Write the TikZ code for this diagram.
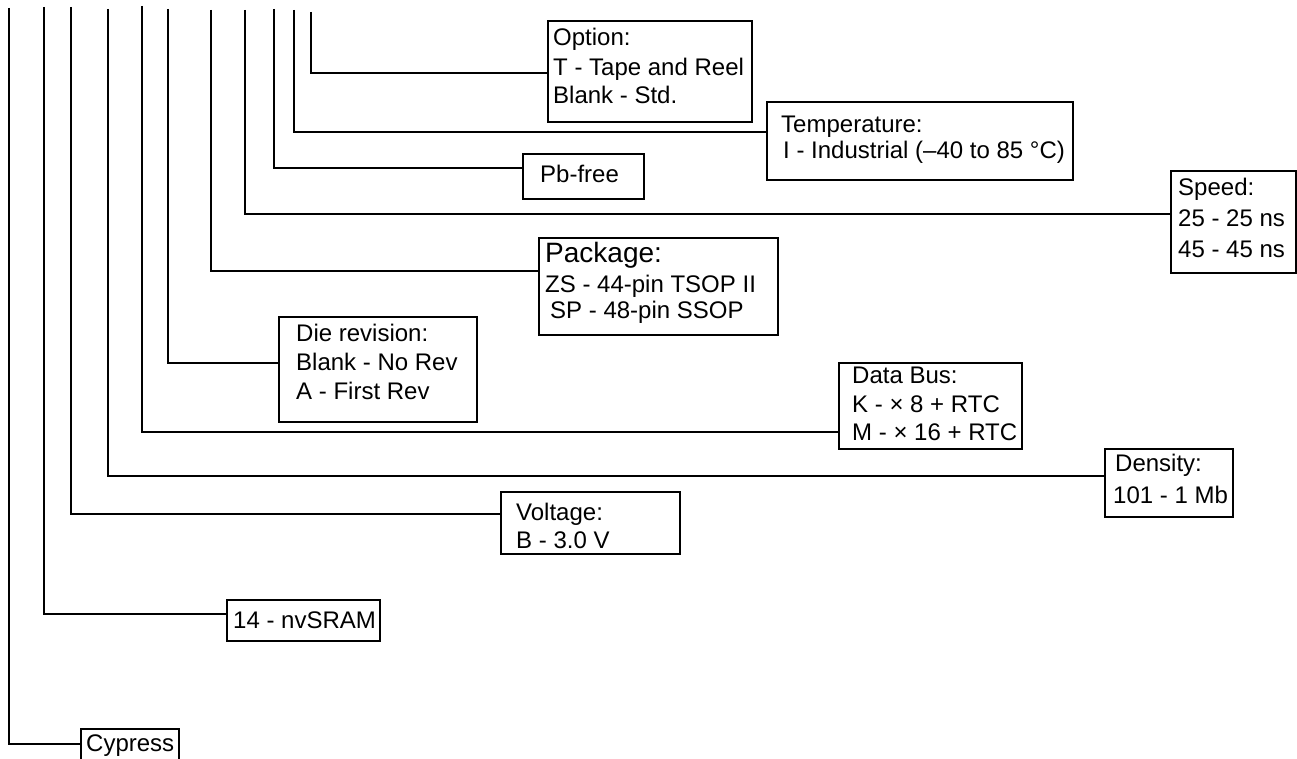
\documentclass[tikz,border=0pt]{standalone}
\usepackage{fontspec}
\setmainfont{Liberation Sans}
\begin{document}
\begin{tikzpicture}[x=1pt,y=-1pt,
  box/.style={draw, line width=1.35pt, rectangle, inner sep=0pt, outer sep=0pt, anchor=north west},
  lbl/.style={anchor=base west, inner sep=0pt, font=\fontsize{24}{28}\selectfont},
  big/.style={anchor=base west, inner sep=0pt, font=\fontsize{28}{32}\selectfont},
  lead/.style={line width=1.35pt, line join=miter}]
\useasboundingbox (0,0) rectangle (1297,759);
\clip (0,0) rectangle (1297,759);

% boxes
\node[box, minimum width=204pt, minimum height=101pt] (opt)  at (548,21)  {};
\node[box, minimum width=306pt, minimum height=78pt]  (temp) at (767,102) {};
\node[box, minimum width=121pt, minimum height=45pt]  (pb)   at (523,154) {};
\node[box, minimum width=125pt, minimum height=102pt] (spd)  at (1171,171) {};
\node[box, minimum width=239pt, minimum height=97pt]  (pkg)  at (539,238) {};
\node[box, minimum width=198pt, minimum height=105pt] (die)  at (279,317) {};
\node[box, minimum width=183pt, minimum height=86pt]  (bus)  at (839,363) {};
\node[box, minimum width=128pt, minimum height=68pt]  (den)  at (1105,449) {};
\node[box, minimum width=179pt, minimum height=62pt]  (vol)  at (501,492) {};
\node[box, minimum width=153pt, minimum height=41pt]  (nv)   at (227,600) {};
\node[box, minimum width=98pt,  minimum height=45pt]  (cyp)  at (81,729)  {};

% texts
\node[lbl] (optA) at (553,46)  {Option:};
\node[lbl] (optB) at (553,76)  {T - Tape and Reel};
\node[lbl] (optC) at (553,104) {Blank - Std.};
\node[lbl] (tempA) at (781,132.5) {Temperature:};
\node[lbl] (tempB) at (783,159)   {I - Industrial (–40 to 85 °C)};
\node[lbl] (pbA) at (540,183) {Pb-free};
\node[lbl] (spdA) at (1178,196) {Speed:};
\node[lbl] (spdB) at (1178,226) {25 - 25 ns};
\node[lbl] (spdC) at (1178,257) {45 - 45 ns};
\node[big] (pkgA) at (545,262) {Package:};
\node[lbl] (pkgB) at (545,292) {ZS - 44-pin TSOP II};
\node[lbl] (pkgC) at (550,318) {SP - 48-pin SSOP};
\node[lbl] (dieA) at (296,341) {Die revision:};
\node[lbl] (dieB) at (296,370) {Blank - No Rev};
\node[lbl] (dieC) at (296,399) {A - First Rev};
\node[lbl] (busA) at (852,383) {Data Bus:};
\node[lbl] (busB) at (852,412) {K - × 8 + RTC};
\node[lbl] (busC) at (852,440) {M - × 16 + RTC};
\node[lbl] (denA) at (1115,471) {Density:};
\node[lbl] (denB) at (1113,503) {101 - 1 Mb};
\node[lbl] (volA) at (516,520) {Voltage:};
\node[lbl] (volB) at (516,548) {B - 3.0 V};
\node[lbl] (nvA) at (233,628) {14 - nvSRAM};
\node[lbl] (cypA) at (86,751) {Cypress};

% leader tops and levels
\coordinate (tCyp)  at (9,8);    \coordinate (yCyp)  at (0,744);
\coordinate (tNv)   at (44,7);   \coordinate (yNv)   at (0,614);
\coordinate (tVol)  at (71,7);   \coordinate (yVol)  at (0,514);
\coordinate (tDen)  at (108,9);  \coordinate (yDen)  at (0,476);
\coordinate (tBus)  at (142,6);  \coordinate (yBus)  at (0,432);
\coordinate (tDie)  at (168,9);  \coordinate (yDie)  at (0,363);
\coordinate (tPkg)  at (211,10); \coordinate (yPkg)  at (0,271);
\coordinate (tSpd)  at (245,10); \coordinate (ySpd)  at (0,214);
\coordinate (tPb)   at (274,9);  \coordinate (yPb)   at (0,168);
\coordinate (tTemp) at (294,10); \coordinate (yTemp) at (0,132);
\coordinate (tOpt)  at (311,12); \coordinate (yOpt)  at (0,73);

% connectors
\draw[lead] (tCyp)  |- (cyp.west  |- yCyp);
\draw[lead] (tNv)   |- (nv.west   |- yNv);
\draw[lead] (tVol)  |- (vol.west  |- yVol);
\draw[lead] (tDen)  |- (den.west  |- yDen);
\draw[lead] (tBus)  |- (bus.west  |- yBus);
\draw[lead] (tDie)  |- (die.west  |- yDie);
\draw[lead] (tPkg)  |- (pkg.west  |- yPkg);
\draw[lead] (tSpd)  |- (spd.west  |- ySpd);
\draw[lead] (tPb)   |- (pb.west   |- yPb);
\draw[lead] (tTemp) |- (temp.west |- yTemp);
\draw[lead] (tOpt)  |- (opt.west  |- yOpt);
\end{tikzpicture}
\end{document}
